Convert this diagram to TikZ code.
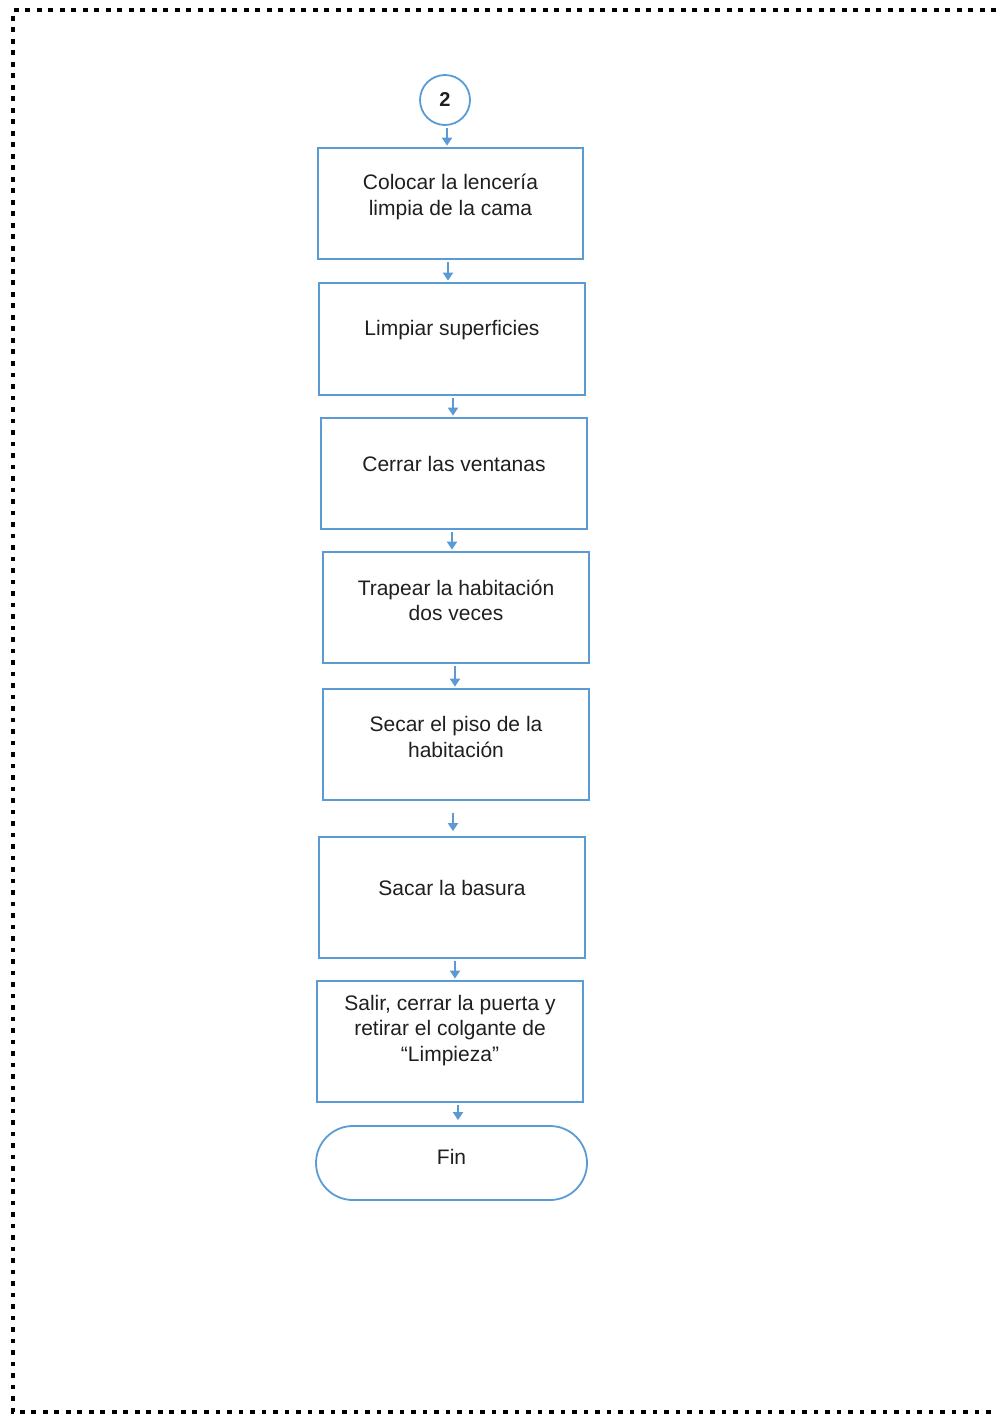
\documentclass[tikz,border=0pt]{standalone}
\usepackage{fontspec}
\setmainfont{Liberation Sans}
\usetikzlibrary{arrows.meta}
\definecolor{lineblue}{HTML}{5B9BD5}
\definecolor{txtgray}{HTML}{1F1F1F}
\tikzset{
  flowbox/.style={draw=lineblue, line width=1.8pt, rectangle, inner sep=0pt,
    minimum width=266pt, minimum height=111pt},
  txt/.style={font=\fontsize{21}{25.5}\selectfont, text=txtgray, align=center,
    inner sep=0pt, anchor=center},
  conn/.style={circle, draw=lineblue, line width=1.8pt, minimum size=50pt, inner sep=0pt,
    font=\fontsize{20}{25}\selectfont\bfseries, text=txtgray},
  term/.style={draw=lineblue, line width=1.8pt, rectangle, rounded corners=37pt,
    minimum width=271pt, minimum height=74pt, inner sep=0pt},
  arr/.style={draw=lineblue, fill=lineblue, line width=2.2pt, shorten >=1.5pt, shorten <=2pt,
    -{Triangle[length=8pt,width=10pt]}},
  frame/.style={line width=4.8pt, dash pattern=on 4.8pt off 6.7pt, black}
}
\begin{document}
\begin{tikzpicture}[x=1pt, y=-1pt]
\useasboundingbox (0,0) rectangle (996,1415);

% dotted page frame
\draw[frame] (996,10) -- (13,10) -- (13,1412) -- (996,1412);

% connector
\node[conn] (c2) at (445,100) {2};

% process steps
\node[flowbox, minimum width=265pt] (b1) at (450.5,203.5) {};
\node[flowbox, minimum height=112pt] (b2) at (452,339) {};
\node[flowbox] (b3) at (454,473.5) {};
\node[flowbox] (b4) at (456,607.5) {};
\node[flowbox] (b5) at (456,744.5) {};
\node[flowbox, minimum height=121pt] (b6) at (452,897.5) {};
\node[flowbox, minimum height=121pt] (b7) at (450,1041.5) {};
\node[term] (fin) at (451.5,1163) {};

% step texts
\node[txt] (t1) at ([yshift=-50pt]b1.north) {Colocar la lencería\\limpia de la cama};
\node[txt] (t2) at ([yshift=-47.5pt]b2.north) {Limpiar superficies};
\node[txt] (t3) at ([yshift=-46.5pt]b3.north) {Cerrar las ventanas};
\node[txt] (t4) at ([yshift=-49.5pt]b4.north) {Trapear la habitación\\dos veces};
\node[txt] (t5) at ([yshift=-49pt]b5.north) {Secar el piso de la\\habitación};
\node[txt] (t6) at ([yshift=-51.5pt]b6.north) {Sacar la basura};
\node[txt] (t7) at ([yshift=-50pt]b7.north) {Salir, cerrar la puerta y\\retirar el colgante de\\“Limpieza”};
\node[txt] (t8) at ([yshift=6pt]fin.center) {Fin};

% arrows
\draw[arr] ([xshift=2pt]c2.south) -- ([xshift=2pt]c2.south |- b1.north);
\draw[arr] ([xshift=-2.5pt]b1.south) -- ([xshift=-2.5pt]b1.south |- b2.north);
\draw[arr] ([xshift=1pt]b2.south) -- ([xshift=1pt]b2.south |- b3.north);
\draw[arr] ([xshift=-2pt]b3.south) -- ([xshift=-2pt]b3.south |- b4.north);
\draw[arr] ([xshift=-1pt]b4.south) -- ([xshift=-1pt]b4.south |- b5.north);
\draw[arr, shorten <=12pt, shorten >=5pt] ([xshift=-3pt]b5.south) -- ([xshift=-3pt]b5.south |- b6.north);
\draw[arr] ([xshift=3pt]b6.south) -- ([xshift=3pt]b6.south |- b7.north);
\draw[arr, shorten >=5pt] ([xshift=8pt]b7.south) -- ([xshift=8pt]b7.south |- fin.north);
\end{tikzpicture}
\end{document}
